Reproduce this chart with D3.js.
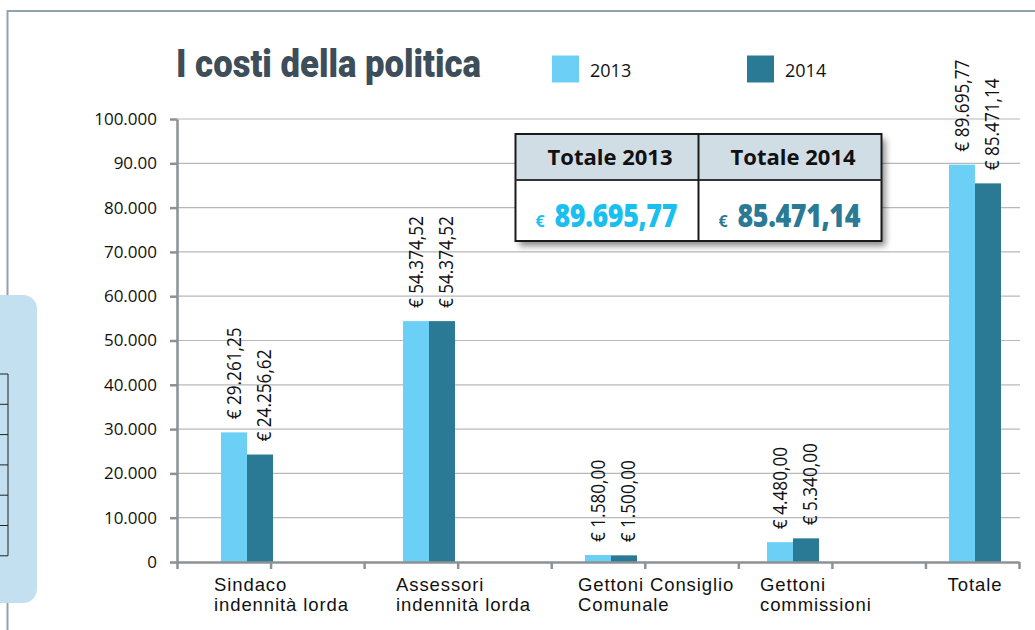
<!DOCTYPE html>
<html lang="it">
<head>
<meta charset="utf-8">
<title>I costi della politica</title>
<script src="https://cdn.jsdelivr.net/npm/d3@7"></script>
<style>
  body { margin: 0; background: #fff; }
  svg { display: block; }
</style>
</head>
<body>
<script>
// dati
var categories = [["Sindaco", "indennità lorda"], ["Assessori", "indennità lorda"], ["Gettoni Consiglio", "Comunale"], ["Gettoni", "commissioni"], ["Totale"]];
var years = ["2013", "2014"];
var values2013 = [29261.25, 54374.52, 1580.00, 4480.00, 89695.77];
var values2014 = [24256.62, 54374.52, 1500.00, 5340.00, 85471.14];
var yTicks = [0, 10000, 20000, 30000, 40000, 50000, 60000, 70000, 80000, 90000, 100000];
var yTickLabels = ["0", "10.000", "20.000", "30.000", "40.000", "50.000", "60.000", "70.000", "80.000", "90.00", "100.000"];
var slotTicks = [0, 1, 2, 3, 4, 5, 6, 7, 8, 9];

var colors = {"2013": "#6ccff6", "2014": "#2b7a95"};
var totalColors = {"2013": "#1bbfef", "2014": "#2b7a95"};

var it = d3.formatLocale({decimal: ",", thousands: ".", grouping: [3], currency: ["€ ", ""]});
var fmt = it.format(",.2f");

var W = 1035, H = 630;
var svg = d3.select("body").append("svg").attr("width", W).attr("height", H);

var defs = svg.append("defs");
var f = defs.append("filter").attr("id", "shadow").attr("x", "-10%").attr("y", "-10%").attr("width", "130%").attr("height", "140%");
f.append("feDropShadow").attr("dx", 4).attr("dy", 5).attr("stdDeviation", 3)
  .attr("flood-color", "#000").attr("flood-opacity", 0.45);

// cornice
svg.append("path").attr("d", "M7.5,630 V11 H1035")
  .attr("fill", "none").attr("stroke", "#8fa3af").attr("stroke-width", 2);

// pannello azzurro a sinistra
svg.append("rect").attr("x", -20).attr("y", 295).attr("width", 57).attr("height", 308)
  .attr("rx", 14).attr("fill", "#c2e0f0");
var rowsY = d3.range(7).map(function(i){ return 374 + i * 30.3; });
svg.selectAll(".prow").data(rowsY).enter().append("line")
  .attr("x1", 0).attr("x2", 8).attr("y1", function(d){ return d; }).attr("y2", function(d){ return d; })
  .attr("stroke", "#222").attr("stroke-width", 1);
svg.append("line").attr("x1", 8).attr("x2", 8).attr("y1", 374).attr("y2", rowsY[6])
  .attr("stroke", "#222").attr("stroke-width", 1);

// scale
var y = d3.scaleLinear().domain([0, 100000]).range([562, 119]);
var xCat = d3.scalePoint().domain(d3.range(categories.length)).range([247, 975]);
var xSeries = d3.scaleBand().domain(years).range([-26, 26]);
var xSlot = d3.scaleLinear().domain([0, 9]).range([177, 1019]);

// griglia
svg.append("g").selectAll("line").data(yTicks.filter(function(d){ return d > 0; })).enter().append("line")
  .attr("x1", 177).attr("x2", 1020)
  .attr("y1", function(d){ return y(d); }).attr("y2", function(d){ return y(d); })
  .attr("stroke", "#b8b8b8").attr("stroke-width", 1.2);

// barre
var rows = [];
categories.forEach(function(c, i){
  rows.push({i: i, year: "2013", v: values2013[i]});
  rows.push({i: i, year: "2014", v: values2014[i]});
});

svg.append("g").selectAll("rect").data(rows).enter().append("rect")
  .attr("x", function(d){ return xCat(d.i) + xSeries(d.year); })
  .attr("width", xSeries.bandwidth())
  .attr("y", function(d){ return y(d.v); })
  .attr("height", function(d){ return y(0) - y(d.v); })
  .attr("fill", function(d){ return colors[d.year]; });

// etichette valori (ruotate, un po' strette come nell'originale)
var labOff = {"2013": 7, "2014": 11};
svg.append("g").selectAll("text").data(rows).enter().append("text")
  .attr("transform", function(d){
    var cx = xCat(d.i) + xSeries(d.year) + xSeries.bandwidth() / 2 + labOff[d.year];
    return "translate(" + cx + "," + (y(d.v) - 13) + ") rotate(-90) scale(0.86,1)";
  })
  .attr("font-family", "'Open Sans', sans-serif").attr("font-size", 20).attr("fill", "#111")
  .attr("font-weight", 500)
  .text(function(d){ return "€ " + fmt(d.v); });

// assi
var yAxis = d3.axisLeft(y).tickValues(yTicks).tickFormat(function(d, i){ return yTickLabels[i]; })
  .tickSize(7).tickSizeOuter(0).tickPadding(13);
var gy = svg.append("g").attr("transform", "translate(177,0)").call(yAxis);

var xAxis = d3.axisBottom(xSlot).tickValues(slotTicks).tickFormat("").tickSize(7).tickSizeOuter(0);
var gx = svg.append("g").attr("transform", "translate(0," + y(0) + ")").call(xAxis);

[gy, gx].forEach(function(g){
  g.selectAll("path, line").attr("stroke", "#8d9195").attr("stroke-width", 2.5);
});
gy.selectAll("text").attr("font-family", "'Open Sans', sans-serif").attr("font-size", 17).attr("fill", "#111");

// etichette categorie: una riga per testo
var lines = [];
categories.forEach(function(d, i){
  d.forEach(function(line, k){
    lines.push({i: i, k: k, text: line, single: d.length === 1});
  });
});
svg.append("g").selectAll("text").data(lines).enter().append("text")
  .attr("x", function(d){ return d.single ? xCat(d.i) : xCat(d.i) - 33; })
  .attr("y", function(d){ return 590.5 + d.k * 20.8; })
  .attr("text-anchor", function(d){ return d.single ? "middle" : "start"; })
  .attr("font-family", "'Liberation Sans', Arial, sans-serif").attr("font-size", 18.5)
  .attr("letter-spacing", 0.9).attr("fill", "#111")
  .text(function(d){ return d.text; });

// titolo
svg.append("text").attr("x", 176).attr("y", 77)
  .attr("font-family", "Roboto, 'DejaVu Sans', sans-serif").attr("font-weight", 900)
  .attr("font-size", 38).attr("fill", "#3d4d59")
  .attr("textLength", 305).attr("lengthAdjust", "spacingAndGlyphs")
  .text("I costi della politica");

// legenda
var legX = {"2013": 552, "2014": 747};
var leg = svg.append("g").selectAll("g").data(years).enter().append("g")
  .attr("transform", function(d){ return "translate(" + legX[d] + ",55.5)"; });
leg.append("rect").attr("width", 27).attr("height", 27).attr("fill", function(d){ return colors[d]; });
leg.append("text").attr("x", 38).attr("y", 21.5)
  .attr("font-family", "'Open Sans', sans-serif").attr("font-size", 18).attr("fill", "#111")
  .text(function(d){ return d; });

// riquadro totali
var totals = [values2013[values2013.length - 1], values2014[values2014.length - 1]];
var box = {x: 515.5, y: 134, w: 366, h: 107, head: 46};
var colW = box.w / 2;
var tb = svg.append("g");
tb.append("rect").attr("x", box.x).attr("y", box.y).attr("width", box.w).attr("height", box.h)
  .attr("fill", "#fff").attr("filter", "url(#shadow)");
tb.append("rect").attr("x", box.x).attr("y", box.y).attr("width", box.w).attr("height", box.head)
  .attr("fill", "#d1dde4");
tb.append("rect").attr("x", box.x).attr("y", box.y).attr("width", box.w).attr("height", box.h)
  .attr("fill", "none").attr("stroke", "#1a1a1a").attr("stroke-width", 2);
tb.append("line").attr("x1", box.x).attr("x2", box.x + box.w).attr("y1", box.y + box.head).attr("y2", box.y + box.head)
  .attr("stroke", "#333").attr("stroke-width", 2);
tb.append("line").attr("x1", box.x + colW).attr("x2", box.x + colW).attr("y1", box.y).attr("y2", box.y + box.h)
  .attr("stroke", "#1a1a1a").attr("stroke-width", 2);

years.forEach(function(yr, k){
  var cx = box.x + colW * k;
  tb.append("text").attr("x", cx + colW / 2 + 3).attr("y", 164.5).attr("text-anchor", "middle")
    .attr("font-family", "'Open Sans', sans-serif").attr("font-weight", 700).attr("font-size", 22).attr("fill", "#111")
    .text("Totale " + yr);
  tb.append("text").attr("x", cx + 20).attr("y", 226.5)
    .attr("font-family", "'Open Sans', sans-serif").attr("font-weight", 700).attr("font-size", 16)
    .attr("fill", totalColors[yr]).text("€");
  tb.append("text").attr("transform", "translate(" + (cx + 39) + ",226.5) scale(0.84,1)")
    .attr("font-family", "'Open Sans', sans-serif").attr("font-weight", 800).attr("font-size", 32)
    .attr("letter-spacing", -0.5)
    .attr("fill", totalColors[yr]).text(fmt(totals[k]));
});
</script>
</body>
</html>
